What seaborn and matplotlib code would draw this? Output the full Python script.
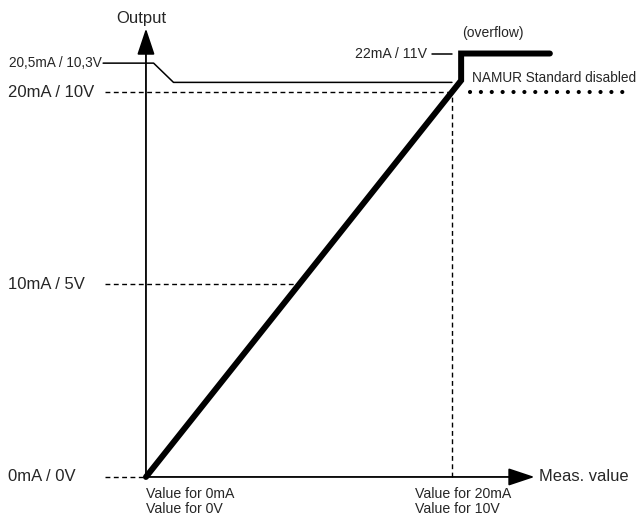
import matplotlib
matplotlib.use("Agg")
import matplotlib.pyplot as plt
import seaborn as sns
import pandas as pd

# transfer curve (meas. value -> output mA)
curve_x = [0, 20.6, 20.6, 26.4]
curve_y = [0, 20.6, 22, 22]

# NAMUR limit line (20.5 mA) with its label leader
namur_x = [-2.8, 0.5, 1.8, 20.0]
namur_y = [21.5, 21.5, 20.5, 20.5]

# dashed reference levels (mA) and where they hit the curve
ref_levels = [0, 10, 20]
ref_labels = ["0mA / 0V", "10mA / 5V", "20mA / 10V"]
x_full = 20
overflow = 22
dotted_start, dotted_end = 21.2, 31.5

sns.set_theme(style="white")
plt.rcParams["font.family"] = ["Liberation Sans", "DejaVu Sans"]

fig = plt.figure(figsize=(6.38, 5.22), dpi=100)
ax = fig.add_axes([0, 0, 1, 1])
ax.set_xlim(-9.54, 32.16)
ax.set_ylim(-2.34, 24.78)
ax.axis("off")

df = pd.DataFrame({"meas": curve_x, "out": curve_y})
sns.lineplot(data=df, x="meas", y="out", sort=False, estimator=None, color="black",
             linewidth=4.3, ax=ax, zorder=5)
for line in ax.lines:
    line.set_solid_capstyle("round")
    line.set_solid_joinstyle("miter")

ax.plot(namur_x, namur_y, color="black", lw=1.1)

dash = (0, (3.5, 2.5))
for lvl, lab in zip(ref_levels, ref_labels):
    ax.plot([-2.7, lvl * x_full / 20], [lvl, lvl], color="black", lw=1.0, linestyle=dash)
    ax.text(-9.0, lvl, lab, fontsize=12, ha="left", va="center")
ax.plot([x_full, x_full], [0, 20], color="black", lw=1.0, linestyle=dash)
ax.plot([dotted_start, dotted_end], [20, 20], color="black", lw=3.0,
        linestyle=(0, (0.01, 2.6)), dash_capstyle="round")

# axes with arrows
arrow = dict(arrowstyle="-|>,head_length=0.9,head_width=0.3", lw=1.3,
             color="black", shrinkA=0, shrinkB=0, mutation_scale=18)
ax.annotate("", xy=(25.4, 0), xytext=(0, 0), arrowprops=arrow)
ax.annotate("", xy=(0, 23.3), xytext=(0, 0), arrowprops=arrow)

ax.plot([18.7, 20.0], [overflow, overflow], color="black", lw=1.1)

ax.text(-0.33, 23.84, "Output", fontsize=12, ha="center", va="center")
ax.text(-2.85, 21.5, "20,5mA / 10,3V", fontsize=9.8, ha="right", va="center")
ax.text(18.4, overflow, "22mA / 11V", fontsize=10.2, ha="right", va="center")
ax.text(20.65, 23.06, "(overflow)", fontsize=10, ha="left", va="center")
ax.text(21.3, 20.73, "NAMUR Standard disabled", fontsize=9.8, ha="left", va="center")
ax.text(25.7, 0, "Meas. value", fontsize=11.9, ha="left", va="center")
ax.text(0, -0.5, "Value for 0mA\nValue for 0V", fontsize=10.2, ha="left", va="top",
        linespacing=1.1)
ax.text(17.6, -0.5, "Value for 20mA\nValue for 10V", fontsize=10.2, ha="left", va="top",
        linespacing=1.1)

fig.savefig("out.png", dpi=100, facecolor="white")
